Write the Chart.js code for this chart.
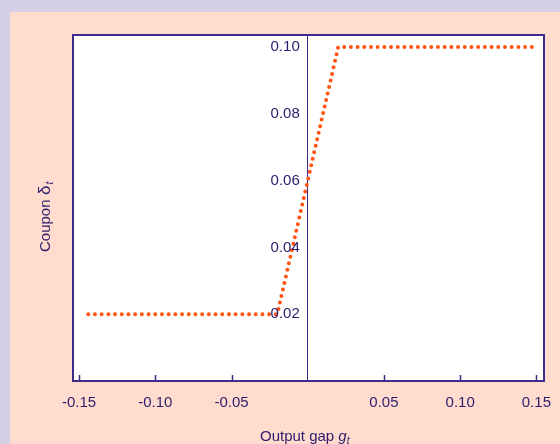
<!DOCTYPE html>
<html lang="en">
<head>
    <meta charset="UTF-8">
    <title>Coupon vs output gap</title>
    <script src="https://cdn.jsdelivr.net/npm/chart.js"></script>
    <style>
        body { margin: 0; background: #d3cfe5; width: 560px; height: 444px; overflow: hidden; }
        .panel { position: absolute; left: 10px; top: 12px; width: 550px; height: 432px; background: #ffdccd; }
        canvas { display: block; }
    </style>
</head>
<body>
    <div class="panel">
        <canvas id="couponChart" width="550" height="432"></canvas>
    </div>

    <script>
        // coupon schedule: flat floor, linear ramp, flat cap
        const gapValues = [-0.144, -0.02, 0.02, 0.149];
        const couponValues = [0.02, 0.02, 0.10, 0.10];
        const xTickValues = [-0.15, -0.10, -0.05, 0.05, 0.10, 0.15];
        const yTickValues = [0.02, 0.04, 0.06, 0.08, 0.10];

        const textColor = "#2b1c6e";
        const frameColor = "#3c2b88";
        const fontFamily = "'Liberation Sans', Arial, Helvetica, sans-serif";

        const points = gapValues.map((g, i) => ({ x: g, y: couponValues[i] }));

        // white plot area behind the data
        const backgroundPlugin = {
            id: "plotBackground",
            beforeDraw(chart) {
                const a = chart.chartArea;
                chart.ctx.save();
                chart.ctx.fillStyle = "#ffffff";
                chart.ctx.fillRect(a.left, a.top, a.right - a.left, a.bottom - a.top);
                chart.ctx.restore();
            }
        };

        // frame, inward x ticks, y labels next to the zero line and axis titles
        const framePlugin = {
            id: "frame",
            afterDraw(chart) {
                const ctx = chart.ctx;
                const area = chart.chartArea;
                const xScale = chart.scales.x;
                const yScale = chart.scales.y;
                const zeroX = xScale.getPixelForValue(0);
                ctx.save();
                ctx.strokeStyle = frameColor;
                ctx.lineWidth = 2;
                ctx.strokeRect(area.left, area.top, area.right - area.left, area.bottom - area.top);

                ctx.lineWidth = 1.5;
                xTickValues.forEach(v => {
                    const px = Math.round(xScale.getPixelForValue(v)) + 0.5;
                    ctx.beginPath();
                    ctx.moveTo(px, area.bottom);
                    ctx.lineTo(px, area.bottom - 6);
                    ctx.stroke();
                });

                ctx.fillStyle = textColor;

                // y tick labels, left of the vertical axis
                ctx.font = "15px " + fontFamily;
                ctx.textAlign = "right";
                ctx.textBaseline = "middle";
                yTickValues.forEach(v => {
                    ctx.fillText(v.toFixed(2), zeroX - 8, yScale.getPixelForValue(v));
                });

                ctx.textBaseline = "alphabetic";
                ctx.textAlign = "left";

                // x title
                const mainX = "Output gap ";
                ctx.font = "15px " + fontFamily;
                const w1 = ctx.measureText(mainX).width;
                ctx.font = "italic 15px " + fontFamily;
                const w2 = ctx.measureText("g").width;
                ctx.font = "italic 10px " + fontFamily;
                const w3 = ctx.measureText("t").width;
                const sx = zeroX - 3 - (w1 + w2 + w3) / 2;
                const by = 429;
                ctx.font = "15px " + fontFamily;
                ctx.fillText(mainX, sx, by);
                ctx.font = "italic 15px " + fontFamily;
                ctx.fillText("g", sx + w1, by);
                ctx.font = "italic 10px " + fontFamily;
                ctx.fillText("t", sx + w1 + w2, by + 3);

                // y title (rotated)
                ctx.translate(40, 198);
                ctx.rotate(-Math.PI / 2);
                const sy = -42;
                ctx.font = "15px " + fontFamily;
                ctx.fillText("Coupon", sy, 0);
                ctx.font = "17px " + fontFamily;
                const dw = ctx.measureText("δ").width;
                ctx.fillText("δ", sy + 57, 0);
                ctx.font = "italic 10px " + fontFamily;
                ctx.fillText("t", sy + 57 + dw + 1, 3);
                ctx.restore();
            }
        };

        new Chart(document.getElementById("couponChart"), {
            type: "line",
            data: {
                datasets: [{
                    data: points,
                    borderColor: "#ff5511",
                    borderWidth: 4,
                    borderDash: [0, 6.7],
                    borderCapStyle: "round",
                    pointRadius: 0,
                    tension: 0,
                    fill: false
                }]
            },
            options: {
                responsive: false,
                animation: false,
                layout: { padding: { left: 63, top: 23, right: 16, bottom: 0 } },
                plugins: { legend: { display: false }, tooltip: { enabled: false } },
                scales: {
                    x: {
                        type: "linear",
                        min: -0.154,
                        max: 0.155,
                        grid: { display: false, drawTicks: false },
                        border: { display: false },
                        afterBuildTicks: s => { s.ticks = xTickValues.map(v => ({ value: v })); },
                        afterFit: s => {
                            s.height = 63;
                            s.paddingLeft = 0;
                            s.paddingRight = 0;
                        },
                        ticks: {
                            color: textColor,
                            padding: 13,
                            maxRotation: 0,
                            autoSkip: false,
                            font: { family: fontFamily, size: 15 },
                            callback: v => v.toFixed(2)
                        }
                    },
                    y: {
                        type: "linear",
                        position: { x: 0 },
                        min: 0,
                        max: 0.1036,
                        grid: { display: false, drawTicks: false },
                        border: { display: true, color: frameColor, width: 1 },
                        afterBuildTicks: s => { s.ticks = yTickValues.map(v => ({ value: v })); },
                        afterFit: s => {
                            s.width = 0;
                            s.paddingTop = 0;
                            s.paddingBottom = 0;
                        },
                        ticks: { display: false }
                    }
                }
            },
            plugins: [backgroundPlugin, framePlugin]
        });
    </script>
</body>
</html>
